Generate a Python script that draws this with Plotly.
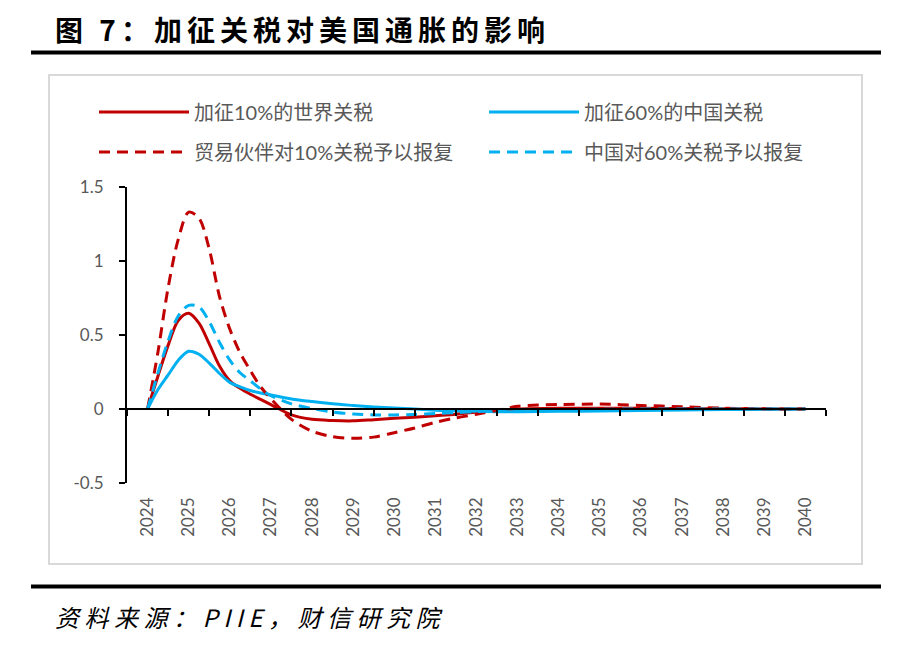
import plotly.graph_objects as go

# ---- data ----
years = [2024, 2024.25, 2024.5, 2024.75, 2025, 2025.25, 2025.5, 2025.75,
         2026, 2026.25, 2026.5, 2026.75, 2027, 2027.5, 2028, 2028.5,
         2029, 2029.5, 2030, 2030.5, 2031, 2031.5, 2032, 2032.5,
         2033, 2034, 2035, 2036, 2037, 2038, 2039, 2040]

world_10 = [0, 0.22, 0.43, 0.60, 0.647, 0.58, 0.44, 0.29,
            0.19, 0.14, 0.10, 0.065, 0.03, -0.04, -0.07, -0.078,
            -0.08, -0.072, -0.063, -0.055, -0.045, -0.035, -0.02, -0.01,
            0.0, 0.005, 0.005, 0.005, 0.003, 0.002, 0.0, 0.0]

world_10_retal = [0, 0.38, 0.82, 1.15, 1.33, 1.29, 1.08, 0.76,
                  0.54, 0.38, 0.26, 0.15, 0.07, -0.07, -0.15, -0.187,
                  -0.198, -0.19, -0.16, -0.128, -0.09, -0.06, -0.035, -0.01,
                  0.018, 0.03, 0.033, 0.024, 0.015, 0.006, 0.001, 0.0]

china_60 = [0, 0.13, 0.23, 0.33, 0.39, 0.37, 0.31, 0.24,
            0.18, 0.15, 0.125, 0.108, 0.095, 0.068, 0.05, 0.035,
            0.024, 0.014, 0.006, 0.0, -0.008, -0.012, -0.016, -0.018,
            -0.018, -0.016, -0.013, -0.01, -0.007, -0.004, -0.002, 0.0]

china_60_retal = [0, 0.24, 0.46, 0.63, 0.70, 0.69, 0.59, 0.45,
                  0.33, 0.245, 0.19, 0.135, 0.09, 0.035, 0.003, -0.02,
                  -0.034, -0.04, -0.04, -0.037, -0.03, -0.024, -0.018, -0.012,
                  -0.008, -0.004, -0.002, 0.0, 0.0, 0.0, 0.0, 0.0]

tick_years = list(range(2024, 2041))
tick_labels = [str(y) for y in tick_years]
y_ticks = [-0.5, 0, 0.5, 1, 1.5]
y_labels = ["-0.5", "0", "0.5", "1", "1.5"]

names = ["加征10%的世界关税", "加征60%的中国关税", "贸易伙伴对10%关税予以报复", "中国对60%关税予以报复"]

RED = "#C00000"
BLUE = "#00B0F0"
GREY = "#595959"
FONT = "Lato, 'Noto Sans CJK SC', sans-serif"

# page body has an 8px margin; work in window pixels and subtract it
OFF = 8
FIG_W, FIG_H = 911 - OFF, 645 - OFF
L, R, T, B = 127 - OFF, 826 - OFF, 187 - OFF, 483 - OFF
W, H = R - L, B - T
def px(x):
    return (x - OFF - L) / W
def py(y):
    return (B - (y - OFF)) / H

fig = go.Figure()
series = [
    (world_10, names[0], RED, "solid", "legend"),
    (china_60, names[1], BLUE, "solid", "legend2"),
    (world_10_retal, names[2], RED, "11px,7px", "legend3"),
    (china_60_retal, names[3], BLUE, "11px,7px", "legend4"),
]
for vals, nm, col, dash, lg in series:
    fig.add_trace(go.Scatter(
        x=years, y=vals, name=nm, mode="lines",
        line=dict(color=col, width=3, dash=dash, shape="spline", smoothing=0.9),
        legend=lg, hoverinfo="skip"))

# dummy trace to activate the zero-line axis
fig.add_trace(go.Scatter(x=[2024], y=[None], xaxis="x2", yaxis="y",
                         showlegend=False, hoverinfo="skip", mode="lines"))

leg_common = dict(orientation="h", font=dict(family=FONT, size=20, color=GREY),
                  bgcolor="rgba(0,0,0,0)", borderwidth=0, itemwidth=90,
                  xanchor="left", yanchor="middle")

fig.update_layout(
    width=FIG_W, height=FIG_H,
    margin=dict(l=L, r=FIG_W - R, t=T, b=FIG_H - B),
    paper_bgcolor="white", plot_bgcolor="white",
    xaxis=dict(range=[2023.5, 2040.5], tickvals=tick_years, ticktext=tick_labels,
               tickangle=-90, ticks="", showline=False, showgrid=False, zeroline=False,
               tickfont=dict(family=FONT, size=17, color=GREY), ticklabelstandoff=10),
    xaxis2=dict(range=[2023.5, 2040.5], overlaying="x", anchor="free", position=0.25,
                tickvals=[y + 0.5 for y in range(2023, 2041)], showticklabels=False,
                ticks="outside", ticklen=6, tickwidth=2, tickcolor="black",
                showline=True, linecolor="black", linewidth=2, showgrid=False, zeroline=False),
    yaxis=dict(range=[-0.5, 1.5], tickvals=y_ticks, ticktext=y_labels,
               ticks="outside", ticklen=6, tickwidth=2, tickcolor="black",
               showline=True, linecolor="black", linewidth=2, showgrid=False, zeroline=False,
               tickfont=dict(family=FONT, size=17, color=GREY), ticklabelstandoff=12),
    legend=dict(x=px(94), y=py(112), **leg_common),
    legend2=dict(x=px(484), y=py(112), **leg_common),
    legend3=dict(x=px(94), y=py(152), **leg_common),
    legend4=dict(x=px(484), y=py(152), **leg_common),
    shapes=[
        dict(type="rect", xref="paper", yref="paper", x0=px(49), x1=px(862), y0=py(564), y1=py(75),
             line=dict(color="#D9D9D9", width=2), fillcolor="rgba(0,0,0,0)", layer="below"),
        dict(type="line", xref="paper", yref="paper", x0=px(31), x1=px(881), y0=py(52.5), y1=py(52.5),
             line=dict(color="black", width=4)),
        dict(type="line", xref="paper", yref="paper", x0=px(31), x1=px(881), y0=py(586.5), y1=py(586.5),
             line=dict(color="black", width=4)),
    ],
    annotations=[
        dict(text="<b><span style='letter-spacing:5px'>图 7：加征关税对美国通胀的影响</span></b>",
             xref="paper", yref="paper", x=px(53), y=py(29), xanchor="left", yanchor="middle",
             showarrow=False, font=dict(family="'Noto Sans CJK SC', sans-serif", size=28, color="black")),
        dict(text="<i><span style='letter-spacing:5.5px'>资料来源：PIIE，财信研究院</span></i>",
             xref="paper", yref="paper", x=px(53), y=py(616), xanchor="left", yanchor="middle",
             showarrow=False, font=dict(family="'Noto Sans CJK SC', 'Liberation Serif', serif", size=24, color="black")),
    ],
)

fig.write_html("out.html")
